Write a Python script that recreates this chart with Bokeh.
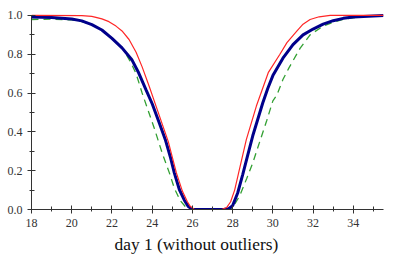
from bokeh.plotting import figure
from bokeh.models import SingleIntervalTicker, PrintfTickFormatter, Title
from bokeh.embed import file_html
from bokeh.resources import INLINE

# ---- data ----
blue_x = [18, 19, 20, 20.5, 21, 21.5, 22, 22.5, 23, 23.3, 23.7, 24.0, 24.35, 24.65, 24.9, 25.1,
          25.35, 25.6, 25.8, 26.0, 27.55, 27.8, 28.0, 28.25, 28.5, 28.75, 29.0, 29.25, 29.5,
          29.75, 30.0, 30.5, 31.0, 31.5, 32.0, 32.5, 33.0, 33.5, 34.0, 35.5]
blue_y = [0.992, 0.99, 0.982, 0.972, 0.953, 0.925, 0.882, 0.833, 0.77, 0.71, 0.615, 0.545, 0.447,
          0.361, 0.272, 0.189, 0.103, 0.048, 0.015, 0.0, 0.0, 0.004, 0.02, 0.085, 0.18, 0.28, 0.38,
          0.465, 0.55, 0.625, 0.69, 0.78, 0.85, 0.9, 0.93, 0.955, 0.973, 0.985, 0.992, 1.0]

red_x = [18, 20.5, 21, 21.5, 21.85, 22.2, 22.5, 22.85, 23.2, 23.5, 23.85, 24.2, 24.5, 24.8, 25.2,
         25.5, 25.75, 25.9, 26.1, 27.45, 27.7, 27.9, 28.1, 28.3, 28.68, 29.18, 29.77, 30.35, 30.7,
         31.2, 31.5, 31.85, 32.3, 32.85, 35.5]
red_y = [1.0, 0.999, 0.995, 0.982, 0.968, 0.945, 0.92, 0.876, 0.81, 0.735, 0.635, 0.53, 0.44, 0.35,
         0.19, 0.095, 0.04, 0.015, 0.0, 0.0, 0.01, 0.04, 0.1, 0.19, 0.36, 0.533, 0.705, 0.8, 0.86,
         0.92, 0.955, 0.979, 0.993, 1.0, 1.0]

green_x = [18, 19, 20, 20.5, 21, 21.5, 22, 22.5, 22.9, 23.2, 23.5, 23.8, 24.1, 24.5, 24.85, 25.1,
           25.4, 25.65, 25.9, 27.85, 28.0, 28.35, 28.7, 29.0, 29.35, 29.7, 30.0, 30.2, 30.5, 30.8,
           31.35, 31.85, 32.5, 33.0, 33.5, 34.5, 35.5]
green_y = [0.979, 0.981, 0.977, 0.968, 0.952, 0.925, 0.885, 0.835, 0.765, 0.7, 0.6, 0.51, 0.42, 0.29,
           0.19, 0.11, 0.045, 0.015, 0.0, 0.0, 0.01, 0.07, 0.16, 0.24, 0.35, 0.46, 0.56, 0.59, 0.67,
           0.73, 0.83, 0.9, 0.945, 0.965, 0.98, 0.995, 1.0]

x_label = "day 1 (without outliers)"

FONT = "Liberation Serif"
AX = "#333333"

p = figure(width=385, height=255, x_range=(18, 35.5), y_range=(0, 1.01),
           output_backend="svg", toolbar_location=None,
           min_border_left=31, min_border_right=2, min_border_top=13, min_border_bottom=10)
p.outline_line_color = None
p.grid.visible = False
p.background_fill_color = "white"
p.border_fill_color = "white"

p.xaxis.ticker = SingleIntervalTicker(interval=2, num_minor_ticks=2)
p.yaxis.ticker = SingleIntervalTicker(interval=0.2, num_minor_ticks=2)
p.yaxis.formatter = PrintfTickFormatter(format="%.1f")
p.xaxis.bounds = (18, 35.5)
p.yaxis.bounds = (0, 1.0)

for ax in (p.xaxis, p.yaxis):
    ax.axis_line_color = AX
    ax.axis_line_width = 1
    ax.major_tick_line_color = AX
    ax.minor_tick_line_color = AX
    ax.major_tick_in = 4
    ax.major_tick_out = 4
    ax.minor_tick_in = 3
    ax.minor_tick_out = 2
    ax.major_label_text_font = FONT
    ax.major_label_text_font_size = "12px"
    ax.major_label_text_color = "#333333"
    ax.major_label_standoff = 5

p.line(green_x, green_y, line_color="#33a033", line_width=1.3, line_dash="7 5")
p.line(blue_x, blue_y, line_color="#00008b", line_width=3)
p.line(red_x, red_y, line_color="#ff2626", line_width=1.2)

t = Title(text=x_label, align="left", offset=83, text_font=FONT,
          text_font_size="17.4px", text_font_style="normal", text_color="#111111", standoff=4)
p.add_layout(t, "below")

open("out.html", "w").write(file_html(p, INLINE))
